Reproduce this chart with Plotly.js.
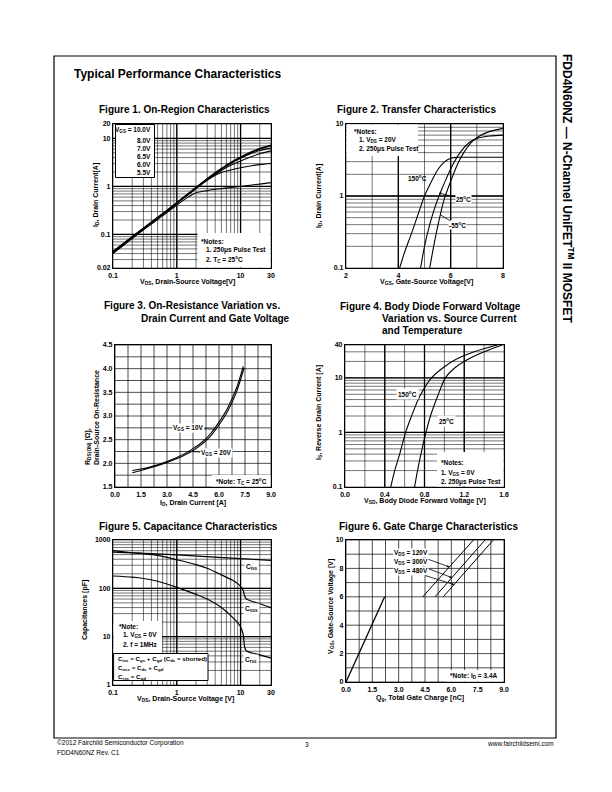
<!DOCTYPE html>
<html><head><meta charset="utf-8">
<script src="https://cdn.plot.ly/plotly-3.0.1.min.js"></script>
<style>html,body{margin:0;padding:0;background:#fff;}#chart{width:612px;height:792px;}</style>
</head><body><div id="chart"></div>
<script>
// ---------------- DATA ----------------
// Figure 1: On-Region Characteristics (ID vs VDS, per VGS)
const f1Vds      = [0.1,0.2,0.3,0.5,0.7,1,1.5,2,3,5,7,10,15,20,30];
const f1Id_10V   = [0.044,0.09,0.135,0.225,0.315,0.46,0.7,0.95,1.45,2.35,3.15,4.1,5.3,6.2,7.3];
const f1Id_8V    = [0.044,0.09,0.135,0.225,0.315,0.46,0.7,0.95,1.45,2.33,3.1,4.0,5.15,6.0,7.0];
const f1Id_7V    = [0.043,0.088,0.133,0.222,0.31,0.455,0.69,0.93,1.42,2.28,3.0,3.85,4.9,5.6,6.3];
const f1Id_6p5V  = [0.043,0.087,0.132,0.22,0.305,0.45,0.68,0.91,1.38,2.15,2.75,3.4,4.2,4.8,5.5];
const f1Id_6V    = [0.042,0.086,0.13,0.215,0.3,0.44,0.67,0.9,1.35,1.95,2.2,2.45,2.7,2.85,3.0];
const f1Id_5p5V  = [0.04,0.082,0.125,0.205,0.285,0.41,0.6,0.74,0.82,0.9,0.95,1.0,1.07,1.12,1.2];
const f1LegendLabels = ["V<sub>GS</sub> = 10.0V","8.0V","7.0V","6.5V","6.0V","5.5V"];

// Figure 2: Transfer Characteristics
const f2Vgs_150 = [4.05,4.25,4.5,4.75,5.0,5.25,5.5,5.75,6.0,6.3,7.0,8.0];
const f2Id_150  = [0.1,0.17,0.3,0.55,1.0,1.55,2.3,2.95,3.35,3.45,3.45,3.45];
const f2Vgs_25  = [4.85,5.0,5.2,5.4,5.6,5.85,6.1,6.4,6.7,7.0,7.5,8.0];
const f2Id_25   = [0.1,0.2,0.4,0.7,1.1,1.8,2.8,4.2,5.5,6.3,6.8,7.0];
const f2Vgs_m55 = [5.2,5.35,5.55,5.75,6.0,6.25,6.5,6.8,7.1,7.5,8.0];
const f2Id_m55  = [0.1,0.2,0.45,0.9,1.6,2.7,4.0,5.6,6.8,7.9,8.7];

// Figure 3: On-Resistance vs Drain Current
const f3Id_10V = [1.0,1.5,2.0,3.0,4.0,4.5,5.0,5.5,6.0,6.5,7.0,7.4];
const f3R_10V  = [1.85,1.88,1.92,2.04,2.2,2.31,2.44,2.62,2.87,3.17,3.58,4.05];
const f3Id_20V = [1.0,1.5,2.0,3.0,4.0,4.5,5.0,5.5,6.0,6.5,7.0,7.45];
const f3R_20V  = [1.8,1.85,1.9,2.02,2.17,2.27,2.4,2.57,2.81,3.1,3.5,4.02];

// Figure 4: Body Diode Forward Voltage
const f4Vsd_150 = [0.46,0.5,0.55,0.61,0.67,0.75,0.87,0.98,1.1,1.3,1.53];
const f4Is_150  = [0.1,0.2,0.4,1.0,2.0,4.5,10,15,21,30,40];
const f4Vsd_25  = [0.7,0.73,0.77,0.815,0.86,0.93,1.01,1.1,1.22,1.4,1.58];
const f4Is_25   = [0.1,0.2,0.45,1.0,2.0,4.5,10,15,21,30,40];

// Figure 5: Capacitance Characteristics
const f5Vds  = [0.1,0.2,0.3,0.5,1,2,3,5,8,10,11,11.5,12,13,15,20,30];
const f5Ciss = [560,545,530,515,490,460,445,430,415,410,408,406,405,403,400,392,380];
const f5Coss = [600,545,520,480,390,310,260,190,140,110,90,72,63,58,54,48,40];
const f5Crss = [180,170,160,140,105,75,60,40,23,16,11,6.5,5.3,4.9,4.6,4.2,3.6];

// Figure 6: Gate Charge Characteristics
const f6Qg_rise = [0, 2.2];
const f6Vg_rise = [0, 6];
const f6Qg_120 = [4.37, 7.26];
const f6Qg_300 = [5.07, 7.92];
const f6Qg_480 = [5.54, 8.39];
const f6Vg_top = [6, 10];

// Tick / grid values
const logGrid_01_30 = [0.1,0.2,0.3,0.4,0.5,0.6,0.7,0.8,0.9,1,2,3,4,5,6,7,8,9,10,20,30];
const logLab_01_30 = [0.1,1,10,30];
const logTxt_01_30 = ["0.1","1","10","30"];
const f1YGrid = [0.02,0.03,0.04,0.05,0.06,0.07,0.08,0.09,0.1,0.2,0.3,0.4,0.5,0.6,0.7,0.8,0.9,1,2,3,4,5,6,7,8,9,10,20];
const f1YLab = [0.02,0.1,1,10,20];
const f1YTxt = ["0.02","0.1","1","10","20"];
const f2XGrid = [2,3,4,5,6,7,8];
const f2XLab = [2,4,6,8];
const f2XTxt = ["2","4","6","8"];
const f2YGrid = [0.1,0.2,0.3,0.4,0.5,0.6,0.7,0.8,0.9,1,2,3,4,5,6,7,8,9,10];
const f2YLab = [0.1,1,10];
const f2YTxt = ["0.1","1","10"];
const grid0to9 = [0,0.75,1.5,2.25,3,3.75,4.5,5.25,6,6.75,7.5,8.25,9];
const lab0to9 = [0,1.5,3,4.5,6,7.5,9];
const txt0to9 = ["0.0","1.5","3.0","4.5","6.0","7.5","9.0"];
const f3YGrid = [1.5,1.75,2,2.25,2.5,2.75,3,3.25,3.5,3.75,4,4.25,4.5];
const f3YLab = [1.5,2,2.5,3,3.5,4,4.5];
const f3YTxt = ["1.5","2.0","2.5","3.0","3.5","4.0","4.5"];
const f4XGrid = [0,0.2,0.4,0.6,0.8,1.0,1.2,1.4,1.6];
const f4XLab = [0,0.4,0.8,1.2,1.6];
const f4XTxt = ["0.0","0.4","0.8","1.2","1.6"];
const f4YGrid = [0.1,0.2,0.3,0.4,0.5,0.6,0.7,0.8,0.9,1,2,3,4,5,6,7,8,9,10,20,30,40];
const f4YLab = [0.1,1,10,40];
const f4YTxt = ["0.1","1","10","40"];
const f5YGrid = [1,2,3,4,5,6,7,8,9,10,20,30,40,50,60,70,80,90,100,200,300,400,500,600,700,800,900,1000];
const f5YLab = [1,10,100,1000];
const f5YTxt = ["1","10","100","1000"];
const f6YGrid = [0,1,2,3,4,5,6,7,8,9,10];
const f6YLab = [0,2,4,6,8,10];
const f6YTxt = ["0","2","4","6","8","10"];

// ---------------- LAYOUT HELPERS ----------------
const W = 612, H = 792;
const FONT = 'Arial, "Liberation Sans", Helvetica, sans-serif';
const BOX = { // page pixels [left, top, right, bottom]
  1: [113, 124, 271, 268],
  2: [346, 124, 503, 268],
  3: [115, 345, 271, 487],
  4: [345, 345, 504, 487],
  5: [113, 540, 271, 685],
  6: [346, 540, 504, 682]
};
const SPEC = {
  x1:{type:'log',range:[0.1,30]},   y1:{type:'log',range:[0.02,20]},
  x2:{type:'linear',range:[2,8]},   y2:{type:'log',range:[0.1,10]},
  x3:{type:'linear',range:[0,9]},   y3:{type:'linear',range:[1.5,4.5]},
  x4:{type:'linear',range:[0,1.6]}, y4:{type:'log',range:[0.1,40]},
  x5:{type:'log',range:[0.1,30]},   y5:{type:'log',range:[1,1000]},
  x6:{type:'linear',range:[0,9]},   y6:{type:'linear',range:[0,10]}
};
const sfx = n => (n === 1 ? '' : String(n));
function frac(spec, v) {
  if (spec.type === 'log') {
    const a = Math.log10(spec.range[0]), b = Math.log10(spec.range[1]);
    return (Math.log10(v) - a) / (b - a);
  }
  return (v - spec.range[0]) / (spec.range[1] - spec.range[0]);
}
function axis(n, dir, labVals, labTxt) {
  const b = BOX[n], spec = SPEC[dir + n];
  const dom = dir === 'x' ? [b[0] / W, b[2] / W] : [1 - b[3] / H, 1 - b[1] / H];
  return {
    domain: dom, anchor: (dir === 'x' ? 'y' : 'x') + sfx(n), type: spec.type,
    range: spec.type === 'log' ? spec.range.map(Math.log10) : spec.range.slice(),
    tickmode: 'array', tickvals: labVals, ticktext: labTxt,
    showgrid: false, zeroline: false,
    showline: true, linecolor: '#000', linewidth: 1.1, mirror: true, ticks: '',
    tickfont: {family: FONT, size: 7, color: '#000', weight: 'bold'},
    fixedrange: true, automargin: false
  };
}
function gridLines(n, dir, vals, width) {
  const spec = SPEC[dir + n];
  return vals.map(v => {
    const f = frac(spec, v);
    const s = {type:'line', xref:'x' + sfx(n) + ' domain', yref:'y' + sfx(n) + ' domain',
      line:{color:'#000', width:width}, layer:'below'};
    if (dir === 'x') Object.assign(s, {x0:f, x1:f, y0:0, y1:1});
    else Object.assign(s, {x0:0, x1:1, y0:f, y1:f});
    return s;
  });
}
function line(n, xs, ys, w, shape) {
  return {x: xs, y: ys, xaxis: 'x' + sfx(n), yaxis: 'y' + sfx(n), type: 'scatter', mode: 'lines',
    line: {color: '#000', width: w || 1.2, shape: shape || 'spline', smoothing: 0.8},
    hoverinfo: 'skip', showlegend: false};
}
function txt(x, y, text, size, opts) {
  return Object.assign({xref:'paper', yref:'paper', x:x / W, y:1 - y / H, text:text, showarrow:false,
    font:{family:FONT, size:size, color:'#000'}, xanchor:'center', yanchor:'middle'}, opts || {});
}
function vtxt(x, y, text, size, opts) {
  return txt(x, y, text, size, Object.assign({textangle:-90}, opts || {}));
}
function whiteBox(x0, y0, x1, y1, border) {
  return {type:'rect', xref:'paper', yref:'paper', x0:x0 / W, x1:x1 / W, y0:1 - y1 / H, y1:1 - y0 / H,
    fillcolor:'#fff', line:{color:'#000', width: border ? 1 : 0}, layer:'above'};
}
function pointer(n, vx, vy, tx, ty, text, head, size) {
  const fx = frac(SPEC['x' + n], vx), fy = frac(SPEC['y' + n], vy);
  const b = BOX[n];
  const px = b[0] + fx * (b[2] - b[0]), py = b[3] - fy * (b[3] - b[1]);
  return {xref:'x' + sfx(n) + ' domain', yref:'y' + sfx(n) + ' domain', x:fx, y:fy,
    ax: tx - px, ay: ty - py, axref:'pixel', ayref:'pixel', text:text, showarrow:true,
    arrowhead: head ? 2 : 0, arrowsize: 0.6, arrowwidth: 0.8, arrowcolor:'#000', standoff:0,
    bgcolor:'#fff', borderpad:0,
    font:{family:FONT, size:size || 6.5, color:'#000'}};
}

// ---------------- TRACES ----------------
const traces = [
  line(1, f1Vds, f1Id_10V, 1.3), line(1, f1Vds, f1Id_8V, 1.2), line(1, f1Vds, f1Id_7V, 1.1),
  line(1, f1Vds, f1Id_6p5V, 1.1), line(1, f1Vds, f1Id_6V, 1.1), line(1, f1Vds, f1Id_5p5V, 1.1),
  line(2, f2Vgs_150, f2Id_150, 1.1), line(2, f2Vgs_25, f2Id_25, 1.1), line(2, f2Vgs_m55, f2Id_m55, 1.1),
  line(3, f3Id_10V, f3R_10V, 1.1), line(3, f3Id_20V, f3R_20V, 1.1),
  line(4, f4Vsd_150, f4Is_150, 1.1), line(4, f4Vsd_25, f4Is_25, 1.1),
  line(5, f5Vds, f5Ciss, 1.2, 'linear'), line(5, f5Vds, f5Coss, 1.2, 'spline'), line(5, f5Vds, f5Crss, 1.2, 'spline'),
  line(6, f6Qg_rise, f6Vg_rise, 1.3, 'linear'), line(6, f6Qg_120, f6Vg_top, 1.0, 'linear'),
  line(6, f6Qg_300, f6Vg_top, 1.0, 'linear'), line(6, f6Qg_480, f6Vg_top, 1.0, 'linear')
];

// ---------------- SHAPES ----------------
const GW = 0.55, MW = 1.3;
const shapes = [].concat(
  [{type:'rect', xref:'paper', yref:'paper', x0:54 / W, x1:556 / W, y0:1 - 738 / H, y1:1 - 56 / H,
    line:{color:'#000', width:1.2}, fillcolor:'rgba(0,0,0,0)', layer:'below'}],
  gridLines(1, 'x', logGrid_01_30, GW), gridLines(1, 'y', f1YGrid, GW),
  gridLines(2, 'x', f2XGrid, GW), gridLines(2, 'y', f2YGrid, GW),
  gridLines(3, 'x', grid0to9, 0.7), gridLines(3, 'y', f3YGrid, 0.7),
  gridLines(4, 'x', f4XGrid, GW), gridLines(4, 'y', f4YGrid, GW),
  gridLines(5, 'x', logGrid_01_30, GW), gridLines(5, 'y', f5YGrid, GW),
  gridLines(6, 'x', grid0to9, 0.7), gridLines(6, 'y', f6YGrid, 0.7),
  gridLines(1, 'x', [1, 10], MW), gridLines(1, 'y', [0.1, 1, 10], MW),
  gridLines(2, 'x', [4, 6], MW), gridLines(2, 'y', [1], MW),
  gridLines(4, 'x', [0.4, 0.8, 1.2], MW), gridLines(4, 'y', [1, 10], MW),
  gridLines(5, 'x', [1, 10], MW), gridLines(5, 'y', [10, 100], MW),
  [
    whiteBox(115.5, 124.5, 154.5, 177.5, true),
    whiteBox(197.5, 233, 270.4, 267.4, false),
    whiteBox(346.6, 124.6, 418, 156, false),
    whiteBox(212, 475, 270.4, 486.4, false),
    whiteBox(437, 452, 503.4, 486.4, false),
    whiteBox(113.6, 621, 162, 653, false),
    whiteBox(113.6, 653.5, 208, 680.5, true),
    whiteBox(446, 670, 503.4, 681.4, false)
  ]
);

// ---------------- ANNOTATIONS ----------------
const B = s => '<b>' + s + '</b>';
const ann = [
  txt(72, 74, B('Typical Performance Characteristics'), 12, {xanchor:'left'}),
  txt(568, 188, B('FDD4N60NZ — N-Channel UniFET<sup>TM</sup> II MOSFET'), 12, {textangle:90}),
  txt(55, 743, '©2012 Fairchild Semiconductor Corporation', 6.5, {xanchor:'left'}),
  txt(55, 752, 'FDD4N60NZ Rev. C1', 6.5, {xanchor:'left'}),
  txt(307, 744, '3', 6.5),
  txt(556, 743, 'www.fairchildsemi.com', 6.5, {xanchor:'right'}),

  // Figure titles
  txt(184, 109, B('Figure 1. On-Region Characteristics'), 10),
  txt(416, 109, B('Figure 2. Transfer Characteristics'), 10),
  txt(102, 305, B('Figure 3. On-Resistance Variation vs.'), 10, {xanchor:'left'}),
  txt(139, 318, B('Drain Current and Gate Voltage'), 10, {xanchor:'left'}),
  txt(338, 306, B('Figure 4. Body Diode Forward Voltage'), 10, {xanchor:'left'}),
  txt(380, 318, B('Variation vs. Source Current'), 10, {xanchor:'left'}),
  txt(380, 330, B('and Temperature'), 10, {xanchor:'left'}),
  txt(188, 526, B('Figure 5. Capacitance Characteristics'), 10),
  txt(428, 526, B('Figure 6. Gate Charge Characteristics'), 10),

  // Axis titles
  vtxt(96, 195, B('I<sub>D</sub>, Drain Current[A]'), 7),
  txt(187, 282, B('V<sub>DS</sub>, Drain-Source Voltage[V]'), 7),
  vtxt(319, 196, B('I<sub>D</sub>, Drain Current[A]'), 7),
  txt(426, 282, B('V<sub>GS</sub>, Gate-Source Voltage[V]'), 7),
  vtxt(92, 418, B('R<sub>DS(ON)</sub> [Ω],<br>Drain-Source On-Resistance'), 7, {align:'left'}),
  txt(193, 503, B('I<sub>D</sub>, Drain Current [A]'), 7),
  vtxt(319, 413, B('I<sub>S</sub>, Reverse Drain Current [A]'), 7),
  txt(425, 501, B('V<sub>SD</sub>, Body Diode Forward Voltage [V]'), 7),
  vtxt(85, 610, B('Capacitances [pF]'), 7),
  txt(186, 699, B('V<sub>DS</sub>, Drain-Source Voltage [V]'), 7),
  vtxt(331, 607, B('V<sub>GS</sub>, Gate-Source Voltage [V]'), 7),
  txt(420, 698, B('Q<sub>g</sub>, Total Gate Charge [nC]'), 7),

  // Figure 1 legend + notes
  txt(153, 130, B(f1LegendLabels[0]), 6.5, {xanchor:'right'}),
  txt(153, 141, B(f1LegendLabels[1]), 6.5, {xanchor:'right'}),
  txt(153, 148.8, B(f1LegendLabels[2]), 6.5, {xanchor:'right'}),
  txt(153, 156.6, B(f1LegendLabels[3]), 6.5, {xanchor:'right'}),
  txt(153, 164.6, B(f1LegendLabels[4]), 6.5, {xanchor:'right'}),
  txt(153, 172.6, B(f1LegendLabels[5]), 6.5, {xanchor:'right'}),
  txt(199, 241, B('*Notes:'), 6.5, {xanchor:'left'}),
  txt(204, 250, B('1. 250μs Pulse Test'), 6.5, {xanchor:'left'}),
  txt(204, 259, B('2. T<sub>C</sub> = 25<sup>o</sup>C'), 6.5, {xanchor:'left'}),

  // Figure 2 notes + labels
  txt(352, 131, B('*Notes:'), 6.5, {xanchor:'left'}),
  txt(357, 140, B('1. V<sub>DS</sub> = 20V'), 6.5, {xanchor:'left'}),
  txt(357, 149, B('2. 250μs Pulse Test'), 6.5, {xanchor:'left'}),
  txt(417, 178, B('150<sup>o</sup>C'), 6.5),
  pointer(2, 5.55, 1.1, 463, 199, B('25<sup>o</sup>C'), true),
  pointer(2, 5.6, 0.55, 457, 225, B('-55<sup>o</sup>C'), false),

  // Figure 3
  pointer(3, 5.8, 2.72, 188, 428, B('V<sub>GS</sub> = 10V'), false),
  pointer(3, 4.4, 2.25, 216, 453, B('V<sub>GS</sub> = 20V'), false),
  txt(214, 481, B('*Note: T<sub>C</sub> = 25<sup>o</sup>C'), 6.5, {xanchor:'left'}),

  // Figure 4
  txt(407, 394, B('150<sup>o</sup>C'), 6.5, {bgcolor:'#fff'}),
  txt(446, 421, B('25<sup>o</sup>C'), 6.5, {bgcolor:'#fff'}),
  txt(439, 463, B('*Notes:'), 6.5, {xanchor:'left'}),
  txt(439, 473, B('1. V<sub>GS</sub> = 0V'), 6.5, {xanchor:'left'}),
  txt(439, 482, B('2. 250μs Pulse Test'), 6.5, {xanchor:'left'}),

  // Figure 5
  txt(251, 567, B('C<sub>iss</sub>'), 6.5, {bgcolor:'#fff'}),
  txt(251, 609, B('C<sub>oss</sub>'), 6.5, {bgcolor:'#fff'}),
  txt(251, 660, B('C<sub>rss</sub>'), 6.5, {bgcolor:'#fff'}),
  txt(117, 626, B('*Note:'), 6.5, {xanchor:'left'}),
  txt(121, 635, B('1. V<sub>GS</sub> = 0V'), 6.5, {xanchor:'left'}),
  txt(121, 644, B('2. f = 1MHz'), 6.5, {xanchor:'left'}),
  txt(115.5, 659, B('C<sub>iss</sub> = C<sub>gs</sub> + C<sub>gd</sub> (C<sub>ds</sub> = shorted)'), 6.2, {xanchor:'left'}),
  txt(115.5, 668, B('C<sub>oss</sub> = C<sub>ds</sub> + C<sub>gd</sub>'), 6.2, {xanchor:'left'}),
  txt(115.5, 677, B('C<sub>rss</sub> = C<sub>gd</sub>'), 6.2, {xanchor:'left'}),

  // Figure 6
  pointer(6, 5.89, 8.1, 411, 553, B('V<sub>DS</sub> = 120V'), true),
  pointer(6, 6.03, 7.35, 411, 562, B('V<sub>DS</sub> = 300V'), true),
  pointer(6, 6.17, 6.85, 411, 571, B('V<sub>DS</sub> = 480V'), true),
  txt(448, 676, B('*Note: I<sub>D</sub> = 3.4A'), 6.5, {xanchor:'left'})
];

const layout = {
  width: W, height: H, margin: {l:0, r:0, t:0, b:0},
  paper_bgcolor: '#fff', plot_bgcolor: 'rgba(0,0,0,0)', showlegend: false,
  font: {family: FONT, color: '#000'},
  xaxis: axis(1, 'x', logLab_01_30, logTxt_01_30),
  yaxis: axis(1, 'y', f1YLab, f1YTxt),
  xaxis2: axis(2, 'x', f2XLab, f2XTxt),
  yaxis2: axis(2, 'y', f2YLab, f2YTxt),
  xaxis3: axis(3, 'x', lab0to9, txt0to9),
  yaxis3: axis(3, 'y', f3YLab, f3YTxt),
  xaxis4: axis(4, 'x', f4XLab, f4XTxt),
  yaxis4: axis(4, 'y', f4YLab, f4YTxt),
  xaxis5: axis(5, 'x', logLab_01_30, logTxt_01_30),
  yaxis5: axis(5, 'y', f5YLab, f5YTxt),
  xaxis6: axis(6, 'x', lab0to9, txt0to9),
  yaxis6: axis(6, 'y', f6YLab, f6YTxt),
  shapes: shapes,
  annotations: ann
};

Plotly.newPlot('chart', traces, layout, {staticPlot: true, displayModeBar: false});
</script></body></html>
